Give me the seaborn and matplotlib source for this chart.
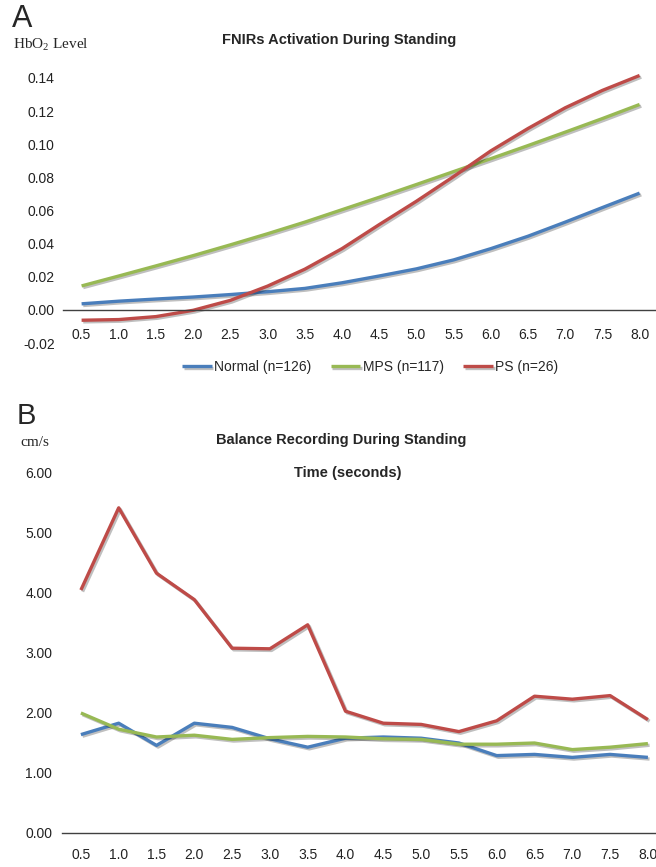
import numpy as np
import pandas as pd
import matplotlib
matplotlib.use("Agg")
import matplotlib.pyplot as plt
import matplotlib.patheffects as pe
from matplotlib.ticker import FixedLocator, FormatStrFormatter
import seaborn as sns

# time points (seconds)
time_s = [0.5, 1.0, 1.5, 2.0, 2.5, 3.0, 3.5, 4.0, 4.5, 5.0, 5.5, 6.0, 6.5, 7.0, 7.5, 8.0]
groups = ["Normal (n=126)", "MPS (n=117)", "PS (n=26)"]

# panel A: HbO2 level
hbo2_normal = [0.0037, 0.0053, 0.0066, 0.0078, 0.0093, 0.0110, 0.0130, 0.0164,
               0.0205, 0.0248, 0.0302, 0.0370, 0.0445, 0.0530, 0.0618, 0.0705]
hbo2_mps = [0.0145, 0.0205, 0.0266, 0.0328, 0.0393, 0.0460, 0.0530, 0.0605,
            0.0680, 0.0757, 0.0835, 0.0913, 0.0992, 0.1073, 0.1155, 0.1240]
hbo2_ps = [-0.0062, -0.0058, -0.0040, -0.0002, 0.0058, 0.0144, 0.0246, 0.0370,
           0.0515, 0.0656, 0.0805, 0.0960, 0.1095, 0.1220, 0.1325, 0.1415]

# panel B: balance (cm/s)
bal_normal = [1.64, 1.83, 1.46, 1.83, 1.76, 1.57, 1.43, 1.58,
              1.60, 1.58, 1.50, 1.29, 1.31, 1.26, 1.31, 1.26]
bal_mps = [2.00, 1.73, 1.60, 1.63, 1.56, 1.59, 1.61, 1.60,
           1.57, 1.56, 1.48, 1.48, 1.50, 1.39, 1.43, 1.49]
bal_ps = [4.05, 5.42, 4.33, 3.89, 3.08, 3.07, 3.47, 2.03,
          1.83, 1.81, 1.69, 1.87, 2.28, 2.23, 2.29, 1.89]

colors = {"Normal (n=126)": "#4A7EBB", "MPS (n=117)": "#98B954", "PS (n=26)": "#BE4B48"}


def long_df(series):
    rows = []
    for g, vals in zip(groups, series):
        for t, v in zip(time_s, vals):
            rows.append({"time": t, "value": v, "group": g})
    return pd.DataFrame(rows)


df_a = long_df([hbo2_normal, hbo2_mps, hbo2_ps])
df_b = long_df([bal_normal, bal_mps, bal_ps])

sns.set_style("white")
plt.rcParams["font.family"] = ["Liberation Sans", "DejaVu Sans"]

W, H = 656, 867
fig = plt.figure(figsize=(W / 100, H / 100), dpi=100)


def px_box(left, top, right, bottom):
    return [left / W, 1 - bottom / H, (right - left) / W, (bottom - top) / H]


ax_a = fig.add_axes(px_box(63, 61.4, 656, 343.1))
ax_b = fig.add_axes(px_box(62, 461, 656, 833))

shadow = [pe.SimpleLineShadow(offset=(1.2, -1.2), alpha=0.25, shadow_color="black"), pe.Normal()]

sns.lineplot(data=df_a, x="time", y="value", hue="group", palette=colors,
             linewidth=2.4, ax=ax_a, legend=True)
sns.lineplot(data=df_b, x="time", y="value", hue="group", palette=colors,
             linewidth=2.4, ax=ax_b, legend=False)

handles, labels = ax_a.get_legend_handles_labels()
ax_a.get_legend().remove()

for ax in (ax_a, ax_b):
    for ln in ax.lines:
        ln.set_path_effects(shadow)
        ln.set_solid_capstyle("butt")
    ax.set_xlabel("")
    ax.set_ylabel("")
    for s in ("left", "right", "top"):
        ax.spines[s].set_visible(False)
    ax.spines["bottom"].set_color("#404040")
    ax.spines["bottom"].set_linewidth(1.0)
    ax.xaxis.set_major_locator(FixedLocator(time_s))
    ax.xaxis.set_major_formatter(FormatStrFormatter("%.1f"))
    ax.xaxis.set_minor_locator(FixedLocator(np.arange(0.25, 8.3, 0.5)))
    ax.tick_params(axis="x", which="minor", direction="out", length=5, width=1, color="#404040")
    ax.tick_params(axis="y", which="both", length=0, labelsize=10, colors="#222222")
    ax.grid(False)

ax_a.set_xlim(0.25, 0.25 + 593 / 37.2 * 0.5)
ax_a.set_ylim(-0.02, 0.15)
ax_a.set_yticks([-0.02, 0.0, 0.02, 0.04, 0.06, 0.08, 0.10, 0.12, 0.14])
ax_a.yaxis.set_major_formatter(FormatStrFormatter("%.2f"))
ax_a.spines["bottom"].set_position(("data", 0))
ax_a.tick_params(axis="x", which="major", length=0, pad=13, labelsize=10, colors="#222222")
ax_a.tick_params(axis="y", pad=6)

ax_b.set_xlim(0.25, 0.25 + 594 / 37.8 * 0.5)
ax_b.set_ylim(0, 6.2)
ax_b.set_yticks([0, 1, 2, 3, 4, 5, 6])
ax_b.yaxis.set_major_formatter(FormatStrFormatter("%.2f"))
ax_b.tick_params(axis="x", which="major", length=0, pad=11, labelsize=10, colors="#222222")
ax_b.tick_params(axis="y", pad=7)

fig.legend(handles, labels, loc="center", bbox_to_anchor=(370 / W, 1 - 367 / H),
           ncol=3, frameon=False, fontsize=10, handlelength=2.15,
           handletextpad=0.15, columnspacing=1.4)

# titles and labels
fig.text(339 / W, 1 - 40 / H, "FNIRs Activation During Standing", ha="center", va="center",
         fontsize=10.5, fontweight="bold")
fig.text(341 / W, 1 - 440 / H, "Balance Recording During Standing", ha="center", va="center",
         fontsize=10.5, fontweight="bold")
fig.text(348 / W, 1 - 473 / H, "Time (seconds)", ha="center", va="center",
         fontsize=10.5, fontweight="bold")

fig.text(12 / W, 1 - 19 / H, "A", ha="left", va="center", fontsize=22)
fig.text(17 / W, 1 - 416 / H, "B", ha="left", va="center", fontsize=21)
fig.text(13 / W, 1 - 45 / H, r"HbO$_\mathregular{2}$ Level", ha="left", va="center",
         fontsize=11, family=["Liberation Serif", "DejaVu Serif"])
fig.text(20 / W, 1 - 443 / H, "cm/s", ha="left", va="center",
         fontsize=11, family=["Liberation Serif", "DejaVu Serif"])

fig.savefig("out.png", dpi=100)
